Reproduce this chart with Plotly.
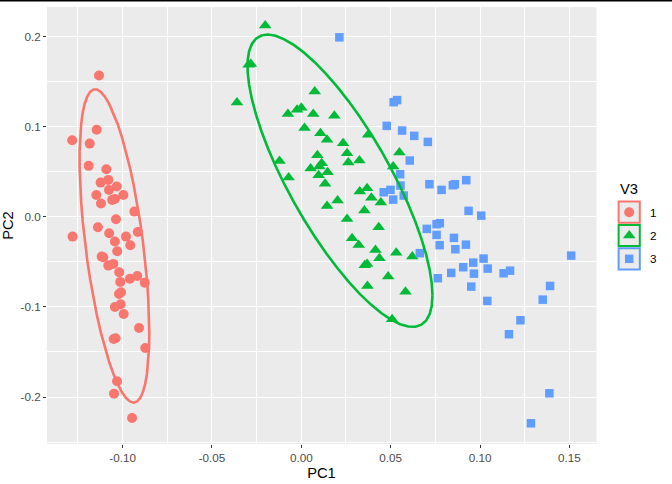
import numpy as np
import plotly.graph_objects as go

# ---------------- data ----------------
g1_pc1 = [-0.1132, -0.1145, -0.1282, -0.1184, -0.1190, -0.1091, -0.1123, -0.1080, -0.1076, -0.1033,
          -0.1147, -0.0996, -0.1121, -0.1058, -0.1043, -0.0934, -0.1037, -0.1138, -0.1280, -0.1075,
          -0.0915, -0.0981, -0.1043, -0.0957, -0.1030, -0.1108, -0.1117, -0.1080, -0.1052, -0.1019,
          -0.1013, -0.0959, -0.0918, -0.0876, -0.1020, -0.1009, -0.1043, -0.1011, -0.0994, -0.0908,
          -0.1050, -0.1039, -0.0873, -0.1031, -0.1048, -0.0947]
g1_pc2 = [0.1570, 0.0967, 0.0852, 0.0814, 0.0567, 0.0530, 0.0381, 0.0411, 0.0300, 0.0337,
          0.0244, 0.0244, 0.0148, 0.0189, 0.0200, 0.0059, -0.0026, -0.0114, -0.0219, -0.0181,
          -0.0167, -0.0219, -0.0274, -0.0314, -0.0381, -0.0448, -0.0441, -0.0541, -0.0522, -0.0614,
          -0.0722, -0.0686, -0.0656, -0.0730, -0.0856, -0.0837, -0.1000, -0.0970, -0.1078, -0.1233,
          -0.1356, -0.1348, -0.1456, -0.1826, -0.1963, -0.2233]

g2_pc1 = [-0.0202, -0.0282, -0.0295, -0.0360, 0.0075, -0.0075, -0.0024, 0.0000, 0.0067, 0.0185,
          0.0018, 0.0107, 0.0144, 0.0234, 0.0374, 0.0256, 0.0549, -0.0122, 0.0090, 0.0263,
          0.0325, 0.0114, 0.0052, 0.0101, 0.0147, 0.0514, -0.0071, 0.0097, 0.0133, 0.0368,
          0.0327, 0.0392, 0.0445, 0.0203, 0.0144, 0.0353, 0.0256, 0.0433, 0.0284, 0.0321,
          0.0415, 0.0531, 0.0621, 0.0437, 0.0368, 0.0355, 0.0486, 0.0370, 0.0583, 0.0508]
g2_pc2 = [0.2126, 0.1697, 0.1689, 0.1270, 0.1392, 0.1144, 0.1189, 0.1211, 0.1144, 0.1122,
          0.0986, 0.0930, 0.0856, 0.0819, 0.0911, 0.0708, 0.0714, 0.0622, 0.0686, 0.0603,
          0.0626, 0.0597, 0.0537, 0.0559, 0.0497, 0.0559, 0.0437, 0.0463, 0.0367, 0.0319,
          0.0281, 0.0214, 0.0159, 0.0181, 0.0122, 0.0070, -0.0022, -0.0114, -0.0237, -0.0311,
          -0.0367, -0.0397, -0.0441, -0.0459, -0.0522, -0.0537, -0.0663, -0.0767, -0.0830, -0.1137]

g3_pc1 = [0.0213, 0.0517, 0.0536, 0.0478, 0.0564, 0.0632, 0.0708, 0.0607, 0.0553, 0.0555,
          0.0461, 0.0499, 0.0514, 0.0573, 0.0717, 0.0785, 0.0848, 0.0859, 0.0923, 0.0936,
          0.1007, 0.0702, 0.0757, 0.0775, 0.0757, 0.0774, 0.0854, 0.0862, 0.0921, 0.0663,
          0.1020, 0.0962, 0.1043, 0.0906, 0.0966, 0.0839, 0.0764, 0.0951, 0.1041, 0.1132,
          0.1168, 0.1510, 0.1392, 0.1351, 0.1226, 0.1162, 0.1388, 0.1285]
g3_pc2 = [0.1994, 0.1274, 0.1297, 0.1011, 0.0959, 0.0900, 0.0833, 0.0626, 0.0474, 0.0348,
          0.0274, 0.0300, 0.0192, 0.0237, 0.0363, 0.0300, 0.0352, 0.0363, 0.0408, 0.0067,
          0.0014, -0.0133, -0.0081, -0.0070, -0.0200, -0.0314, -0.0233, -0.0359, -0.0308, -0.0403,
          -0.0463, -0.0508, -0.0574, -0.0559, -0.0630, -0.0622, -0.0681, -0.0774, -0.0933, -0.0626,
          -0.0597, -0.0430, -0.0767, -0.0919, -0.1148, -0.1303, -0.1959, -0.2292]

groups = ["1", "2", "3"]
colors = ["#F8766D", "#00BA38", "#619CFF"]
symbols = ["circle", "triangle-up", "square"]
sizes = [10, 11, 8.5]
ellipse_groups = ["1", "2"]

x_ticks = [-0.10, -0.05, 0.00, 0.05, 0.10, 0.15]
x_ticktext = ["-0.10", "-0.05", "0.00", "0.05", "0.10", "0.15"]
y_ticks = [-0.2, -0.1, 0.0, 0.1, 0.2]
y_ticktext = ["-0.2", "-0.1", "0.0", "0.1", "0.2"]

data = {
    "1": (g1_pc1, g1_pc2),
    "2": (g2_pc1, g2_pc2),
    "3": (g3_pc1, g3_pc2),
}


# ---------------- stat_ellipse (type = "t", level = 0.95) ----------------
def cov_trob(X, nu=5, maxit=25, tol=0.01):
    n, p = X.shape
    loc = X.mean(axis=0)
    w = np.ones(n)
    Xc = X - loc
    for _ in range(maxit):
        w0 = w.copy()
        Xc = X - loc
        A = np.sqrt(w / w.sum())[:, None] * Xc
        _, d, Vt = np.linalg.svd(A, full_matrices=False)
        wX = Xc @ Vt.T @ np.diag(1.0 / d)
        Q = (wX ** 2).sum(axis=1)
        w = (nu + p) / (nu + Q)
        loc = (w[:, None] * X).sum(axis=0) / w.sum()
        if np.all(np.abs(w - w0) < tol):
            break
    S = np.sqrt(w)[:, None] * Xc
    cov = S.T @ S / n
    return loc, cov


def ellipse_path(xs, ys, level=0.95, segments=51):
    X = np.column_stack([xs, ys])
    n = X.shape[0]
    center, shape = cov_trob(X)
    d2 = n - 1
    qf = d2 / 2.0 * ((1 - level) ** (-2.0 / d2) - 1)  # F(2, d2) quantile
    radius = np.sqrt(2 * qf)
    ang = np.arange(segments + 1) * 2 * np.pi / segments
    circ = np.column_stack([np.cos(ang), np.sin(ang)])
    L = np.linalg.cholesky(shape)
    pts = center + radius * (circ @ L.T)
    return pts[:, 0], pts[:, 1]


fig = go.Figure()

for g, c, s, sz in zip(groups, colors, symbols, sizes):
    xs, ys = data[g]
    fig.add_trace(go.Scatter(x=xs, y=ys, mode="markers",
                             marker=dict(color=c, symbol=s, size=sz, line=dict(width=0)),
                             showlegend=False, hoverinfo="skip"))

for g, c in zip(groups, colors):
    if g not in ellipse_groups:
        continue
    ex, ey = ellipse_path(*data[g])
    fig.add_trace(go.Scatter(x=ex, y=ey, mode="lines",
                             line=dict(color=c, width=2.6),
                             showlegend=False, hoverinfo="skip"))

W, H = 672, 484
ml, mr, mt, mb = 47, 0, 7, 40
pw = W - ml - mr
ph = H - mt - mb
panel_right = 596
dom_r = (panel_right - ml) / pw

# ---------------- custom ggplot-like legend (pixel axis) ----------------
# white background for the legend strip (plot_bgcolor would otherwise show)
fig.add_shape(type="rect", xref="x2", yref="y2", x0=panel_right + 0.5, x1=W + 2, y0=mt - 2, y1=H - mb + 2,
              line=dict(width=0), fillcolor="white", layer="below")

key_cx = 629.2
key_cy = [212.2, 235.5, 258.8]
half = 10.6
for g, c, s, sz, cy in zip(groups, colors, symbols, sizes, key_cy):
    fig.add_shape(type="rect", xref="x2", yref="y2",
                  x0=key_cx - half, x1=key_cx + half, y0=cy - half, y1=cy + half,
                  line=dict(color=c, width=2), fillcolor="#EBEBEB", layer="below")
    fig.add_trace(go.Scatter(x=[key_cx], y=[cy], mode="markers", xaxis="x2", yaxis="y2",
                             marker=dict(color=c, symbol=s, size=sz, line=dict(width=0)),
                             showlegend=False, hoverinfo="skip"))
    fig.add_annotation(xref="x2", yref="y2", x=647.5, y=cy, text=g, showarrow=False,
                       xanchor="left", yanchor="middle",
                       font=dict(size=11.7, color="black"))

fig.add_annotation(xref="x2", yref="y2", x=617.5, y=188.5, text="V3", showarrow=False,
                   xanchor="left", yanchor="middle", font=dict(size=14.7, color="black"))

# black rule at the very top of the page
fig.add_shape(type="rect", xref="paper", yref="paper", x0=-ml / pw - 0.02, x1=1.02,
              y0=1 + (mt - 1.6) / ph, y1=1 + (mt + 1) / ph,
              line=dict(width=0), fillcolor="black")

fig.update_layout(
    width=W, height=H,
    margin=dict(l=ml, r=mr, t=mt, b=mb, pad=0),
    paper_bgcolor="white",
    plot_bgcolor="#EBEBEB",
    font=dict(family="Liberation Sans, Arial, sans-serif", color="black"),
    showlegend=False,
    xaxis=dict(domain=[0, dom_r], range=[-0.1423, 0.1649], showline=False, zeroline=False,
               tickvals=x_ticks, ticktext=x_ticktext,
               ticks="outside", ticklen=3, tickwidth=1, tickcolor="#333333",
               tickfont=dict(size=11.7, color="#4D4D4D"),
               gridcolor="white", gridwidth=1.1,
               minor=dict(dtick=0.025, tick0=0.0, showgrid=True, gridcolor="white", gridwidth=0.5, ticks=""),
               title=dict(text="PC1", font=dict(size=14.7, color="black"), standoff=4)),
    yaxis=dict(range=[-0.2522, 0.2331], showline=False, zeroline=False,
               tickvals=y_ticks, ticktext=y_ticktext,
               ticks="outside", ticklen=3, tickwidth=1, tickcolor="#333333",
               tickfont=dict(size=11.7, color="#4D4D4D"),
               gridcolor="white", gridwidth=1.1,
               minor=dict(dtick=0.05, tick0=0.05, showgrid=True, gridcolor="white", gridwidth=0.5, ticks=""),
               title=dict(text="PC2", font=dict(size=14.7, color="black"), standoff=5)),
    xaxis2=dict(domain=[dom_r, 1], range=[panel_right, W], visible=False, fixedrange=True),
    yaxis2=dict(domain=[0, 1], range=[H - mb, mt], visible=False, fixedrange=True, anchor="x2"),
)

fig.write_html("out.html")
